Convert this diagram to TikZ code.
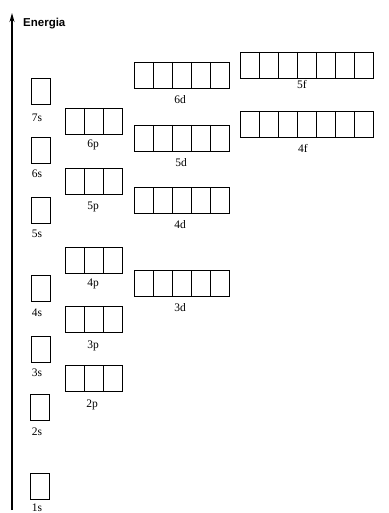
\documentclass[tikz,border=0pt]{standalone}
\usepackage{fontspec}
\setmainfont{Liberation Serif}
\newfontfamily\axisfont{Liberation Sans}
\usetikzlibrary{arrows.meta,calc}
\tikzset{
  orb/.style={draw, line width=1.2pt, minimum height=26pt, inner sep=0pt, anchor=north west},
  cellline/.style={line width=1.0pt},
  lbl/.style={inner sep=0pt, font=\fontsize{11.5}{13}\selectfont},
  axis/.style={line width=1.4pt, -{Stealth[length=9pt,width=5pt]}}
}
% name, cells, left x, top y, label, label x, label y  (pixels, y down)
\newcommand\orbital[7]{%
  \node[orb, minimum width=#2*19pt] (#1) at (#3pt,-#4pt) {};
  \ifnum#2>1
    \foreach \k in {2,...,#2}{%
      \draw[cellline] ($(#1.north west)+({(\k-1)*19pt},0)$) -- ++(0,-26pt);
    }
  \fi
  \node[lbl] (#1l) at (#6pt,-#7pt) {#5};
}
\begin{document}
\begin{tikzpicture}
\useasboundingbox (0,0) rectangle (388pt,-513pt);
\fill[white] (0,0) rectangle (388pt,-513pt);
% axis
\coordinate (axb) at (12pt,-510pt);
\coordinate (axt) at (12pt,-13pt);
\draw[axis] (axb) -- (axt);
\node[anchor=base west, inner sep=0pt, font=\axisfont\bfseries\fontsize{11.5}{13}\selectfont] (en) at (23pt,-27pt) {Energia};
% s
\orbital{o7s}{1}{31}{78}{7s}{37}{118}
\orbital{o6s}{1}{31}{137}{6s}{37}{174}
\orbital{o5s}{1}{31}{197}{5s}{37}{234}
\orbital{o4s}{1}{31}{275}{4s}{37}{313}
\orbital{o3s}{1}{31}{336}{3s}{37}{373}
\orbital{o2s}{1}{30}{394}{2s}{37}{432}
\orbital{o1s}{1}{30}{473}{1s}{37}{508}
% p
\orbital{o6p}{3}{65}{108}{6p}{93}{145}
\orbital{o5p}{3}{65}{168}{5p}{93}{207}
\orbital{o4p}{3}{65}{247}{4p}{93}{284}
\orbital{o3p}{3}{65}{306}{3p}{93}{346}
\orbital{o2p}{3}{65}{365}{2p}{92}{405}
% d
\orbital{o6d}{5}{134}{62}{6d}{180}{100}
\orbital{o5d}{5}{134}{125}{5d}{181}{163}
\orbital{o4d}{5}{134}{187}{4d}{180}{225}
\orbital{o3d}{5}{134}{270}{3d}{180}{308}
% f
\orbital{o5f}{7}{240}{52}{5f}{302}{85}
\orbital{o4f}{7}{240}{111}{4f}{303}{148}
\end{tikzpicture}
\end{document}
